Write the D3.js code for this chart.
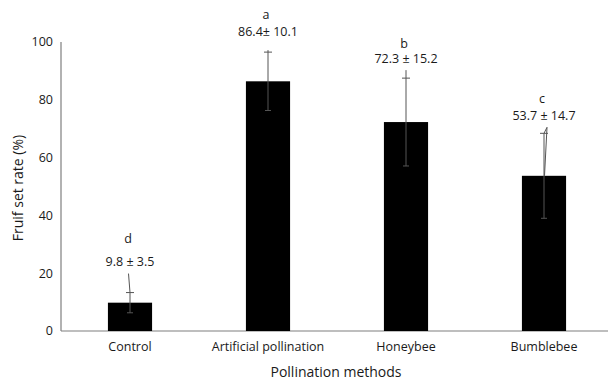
<!DOCTYPE html>
<html><head><meta charset="utf-8">
<script src="https://cdn.jsdelivr.net/npm/d3@7/dist/d3.min.js"></script>
<style>body{margin:0;background:#fff}svg{display:block}text{font-family:"Open Sans","Noto Sans",sans-serif;fill:#1a1a1a}</style>
</head><body>
<svg id="c" width="608" height="380"></svg>
<script>
const categories = ["Control", "Artificial pollination", "Honeybee", "Bumblebee"];
const means = [9.8, 86.4, 72.3, 53.7];
const errors = [3.5, 10.1, 15.2, 14.7];
const letters = ["d", "a", "b", "c"];
const valueLabels = ["9.8 \u00b1 3.5", "86.4\u00b1 10.1", "72.3 \u00b1 15.2", "53.7 \u00b1 14.7"];
const yTicks = [0, 20, 40, 60, 80, 100];

// style: leader-line gap above cap and its dx; label lifts above cap (letter, value)
const leader = [[19, -1.5], [2, 0], [8, 0], [6, 3]];
const labelLift = [[54, 31], [37, 20], [35, 20], [35, 18]];

const svg = d3.select("#c");
const x = d3.scaleBand().domain(categories).range([61, 613]).paddingInner(0.68).paddingOuter(0.34);
const y = d3.scaleLinear().domain([0, 100]).range([331, 42]);

// axes
svg.append("line").attr("x1", 61).attr("x2", 608).attr("y1", y(0)).attr("y2", y(0)).attr("stroke", "#7f7f7f").attr("stroke-width", 1.2);
svg.append("line").attr("x1", 61).attr("x2", 61).attr("y1", y(0)).attr("y2", y(100)).attr("stroke", "#7f7f7f").attr("stroke-width", 1.2);

svg.selectAll(".yt").data(yTicks).join("text").attr("class", "yt")
  .attr("x", 53).attr("y", d => y(d)).attr("dy", "0.35em").attr("text-anchor", "end")
  .attr("font-size", 12.5).text(d => d);

svg.selectAll(".xt").data(categories).join("text").attr("class", "xt")
  .attr("x", d => x(d) + x.bandwidth() / 2).attr("y", 347).attr("dy", "0.35em")
  .attr("text-anchor", "middle").attr("font-size", 12.5).text(d => d);

// bars
svg.selectAll(".bar").data(categories).join("rect").attr("class", "bar")
  .attr("x", d => x(d)).attr("width", x.bandwidth())
  .attr("y", (d, i) => y(means[i])).attr("height", (d, i) => y(0) - y(means[i]))
  .attr("fill", "#000");

// error bars and labels
categories.forEach((c, i) => {
  const cx = x(c) + x.bandwidth() / 2;
  const top = y(means[i] + errors[i]), bot = y(means[i] - errors[i]);
  const g = svg.append("g").attr("stroke", "#555").attr("stroke-width", 1);
  g.append("line").attr("x1", cx).attr("x2", cx).attr("y1", top).attr("y2", bot);
  g.append("line").attr("x1", cx - 4).attr("x2", cx + 4).attr("y1", top).attr("y2", top);
  g.append("line").attr("x1", cx - 3).attr("x2", cx + 3).attr("y1", bot).attr("y2", bot);
  g.append("line").attr("x1", cx + leader[i][1]).attr("x2", cx).attr("y1", top - leader[i][0]).attr("y2", top);
  if (i === 3) {
    g.append("line").attr("x1", cx + leader[i][1]).attr("x2", cx + 0.5).attr("y1", top - leader[i][0]).attr("y2", y(means[i]));
  }
  svg.append("text").attr("x", cx - 2).attr("y", top - labelLift[i][0]).attr("dy", "0.35em")
    .attr("text-anchor", "middle").attr("font-size", 12.5).text(letters[i]);
  svg.append("text").attr("x", cx).attr("y", top - labelLift[i][1]).attr("dy", "0.35em")
    .attr("text-anchor", "middle").attr("font-size", 12.5).text(valueLabels[i]);
});

svg.append("text").attr("x", 336).attr("y", 372).attr("dy", "0.35em").attr("text-anchor", "middle")
  .attr("font-size", 14).text("Pollination methods");
svg.append("text").attr("transform", "translate(18,188) rotate(-90)").attr("dy", "0.35em")
  .attr("text-anchor", "middle").attr("font-size", 14).text("Fruif set rate (%)");
</script>
</body></html>
